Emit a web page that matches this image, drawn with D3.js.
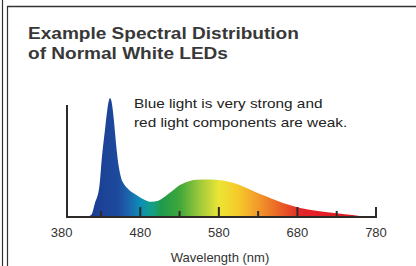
<!DOCTYPE html>
<html>
<head>
<meta charset="utf-8">
<script src="https://cdn.jsdelivr.net/npm/d3@7"></script>
<style>
    body { margin: 0; background: #fff; }
    svg { display: block; font-family: "Liberation Sans", Arial, sans-serif; }
</style>
</head>
<body>
<div id="chart"></div>
<script>
// spectrum (relative intensity, peak = 100)
const wavelengths = [405, 412, 418, 422, 428, 431, 435, 438, 441.5, 444, 446, 448, 450, 452, 454, 456, 459, 463, 468, 474, 484, 494, 502, 511, 521, 531, 543, 552, 568, 585, 600, 613, 625, 640, 655, 670, 685, 706, 730, 750, 768];
const intensities = [0, 0, 2, 11, 26, 49, 73, 90, 100, 95, 84, 70, 56, 45, 37.5, 32, 28, 24.5, 21.5, 19, 15, 12.8, 13.4, 17, 22, 27, 30.3, 31.2, 31.5, 30.7, 28.3, 25, 21.5, 17.5, 13.5, 10, 7.3, 5, 3.2, 1.6, 0];

const majorTicks = [380, 480, 580, 680, 780];
const minorTicks = [430, 530, 630, 730];

// colour of the light along the spectrum
const stopWavelengths = [410, 452, 468, 480, 495, 507, 530, 555, 580, 605, 630, 660, 685, 780];
const stopColors = ["#1a3a8f", "#1d4a9d", "#1a6cae", "#0b8eb6", "#159f88", "#1f9a4a", "#40a73a", "#9bc83c", "#ebe534", "#f6c92b", "#f29a2a", "#e95d24", "#e3262a", "#e2131e"];

const titleLines = ["Example Spectral Distribution", "of Normal White LEDs"];
const noteLines = ["Blue light is very strong and", "red light components are weak."];
const xLabel = "Wavelength (nm)";

class spectrumVis {
    constructor(parentElement) {
        this.parentElement = parentElement;
        this.initVis();
    }

    initVis() {
        let vis = this;

        vis.width = 416;
        vis.height = 266;
        vis.axisLeft = 67;     // y axis sits a little right of 380
        vis.baseY = 217;
        vis.topY = 98;

        vis.svg = d3.select("#" + vis.parentElement).append("svg")
            .attr("width", vis.width)
            .attr("height", vis.height);

        vis.x = d3.scaleLinear().domain([380, 780]).range([61.7, 376]);
        vis.y = d3.scaleLinear().domain([0, 100]).range([vis.baseY, vis.topY]);

        vis.wrangleData();
    }

    wrangleData() {
        let vis = this;
        vis.points = wavelengths.map((w, i) => ({w: w, v: intensities[i]}));
        vis.stops = stopWavelengths.map((w, i) => ({w: w, c: stopColors[i]}));
        vis.updateVis();
    }

    // the lettering in the picture is wider than Arial, so stretch it
    widen(sel, k) {
        sel.each(function() {
            let len = this.getComputedTextLength();
            d3.select(this).attr("textLength", len * k).attr("lengthAdjust", "spacingAndGlyphs");
        });
    }

    updateVis() {
        let vis = this;

        // frame lines
        let frame = vis.svg.append("g").attr("stroke", "#333").attr("fill", "none");
        frame.append("line").attr("x1", 2.5).attr("x2", 2.5).attr("y1", 0).attr("y2", vis.height).attr("stroke-width", 1.2);
        frame.append("line").attr("x1", 7.5).attr("x2", 7.5).attr("y1", 6).attr("y2", vis.height).attr("stroke-width", 1.2);
        frame.append("line").attr("x1", 7).attr("x2", vis.width).attr("y1", 6.5).attr("y2", 6.5).attr("stroke-width", 1.6);

        // title
        let title = vis.svg.append("g").selectAll("text")
            .data(titleLines)
            .enter().append("text")
            .attr("x", 28)
            .attr("y", (d, i) => 39 + i * 20.3)
            .attr("font-size", 16)
            .attr("font-weight", "bold")
            .attr("fill", "#383838")
            .text(d => d);
        vis.widen(title, 1.19);

        // gradient along x
        let grad = vis.svg.append("defs").append("linearGradient")
            .attr("id", "spec")
            .attr("gradientUnits", "userSpaceOnUse")
            .attr("x1", vis.x(380)).attr("x2", vis.x(780))
            .attr("y1", 0).attr("y2", 0);
        grad.selectAll("stop")
            .data(vis.stops)
            .enter().append("stop")
            .attr("offset", d => (d.w - 380) / 400)
            .attr("stop-color", d => d.c);

        let area = d3.area()
            .x(d => vis.x(d.w))
            .y0(vis.y(0))
            .y1(d => vis.y(d.v))
            .curve(d3.curveMonotoneX);

        vis.svg.append("path")
            .datum(vis.points)
            .attr("d", area)
            .attr("fill", "url(#spec)");

        // axes
        let axisCol = "#2e2a28";
        vis.svg.append("line")
            .attr("x1", vis.axisLeft).attr("x2", vis.axisLeft)
            .attr("y1", 105).attr("y2", vis.baseY + 1)
            .attr("stroke", axisCol).attr("stroke-width", 2);
        vis.svg.append("line")
            .attr("x1", vis.axisLeft - 1).attr("x2", vis.x(780) + 1)
            .attr("y1", vis.baseY).attr("y2", vis.baseY)
            .attr("stroke", axisCol).attr("stroke-width", 2);

        vis.svg.append("g").selectAll("line")
            .data(majorTicks.filter(d => d > 380).map(d => ({w: d, h: 10}))
                .concat(minorTicks.map(d => ({w: d, h: 6}))))
            .enter().append("line")
            .attr("x1", d => vis.x(d.w)).attr("x2", d => vis.x(d.w))
            .attr("y1", vis.baseY).attr("y2", d => vis.baseY - d.h)
            .attr("stroke", axisCol).attr("stroke-width", 2);

        vis.svg.append("g").selectAll("text")
            .data(majorTicks)
            .enter().append("text")
            .attr("x", d => vis.x(d))
            .attr("y", 236.5)
            .attr("text-anchor", "middle")
            .attr("font-size", 13)
            .attr("fill", "#333")
            .text(d => d);

        vis.svg.append("text")
            .attr("x", 220)
            .attr("y", 262)
            .attr("text-anchor", "middle")
            .attr("font-size", 13)
            .attr("fill", "#333")
            .text(xLabel);

        // note
        let note = vis.svg.append("g").selectAll("text")
            .data(noteLines)
            .enter().append("text")
            .attr("x", 134)
            .attr("y", (d, i) => 107.5 + i * 19.5)
            .attr("font-size", 13)
            .attr("fill", "#222")
            .text(d => d);
        vis.widen(note, 1.18);
    }
}

new spectrumVis("chart");
</script>
</body>
</html>
